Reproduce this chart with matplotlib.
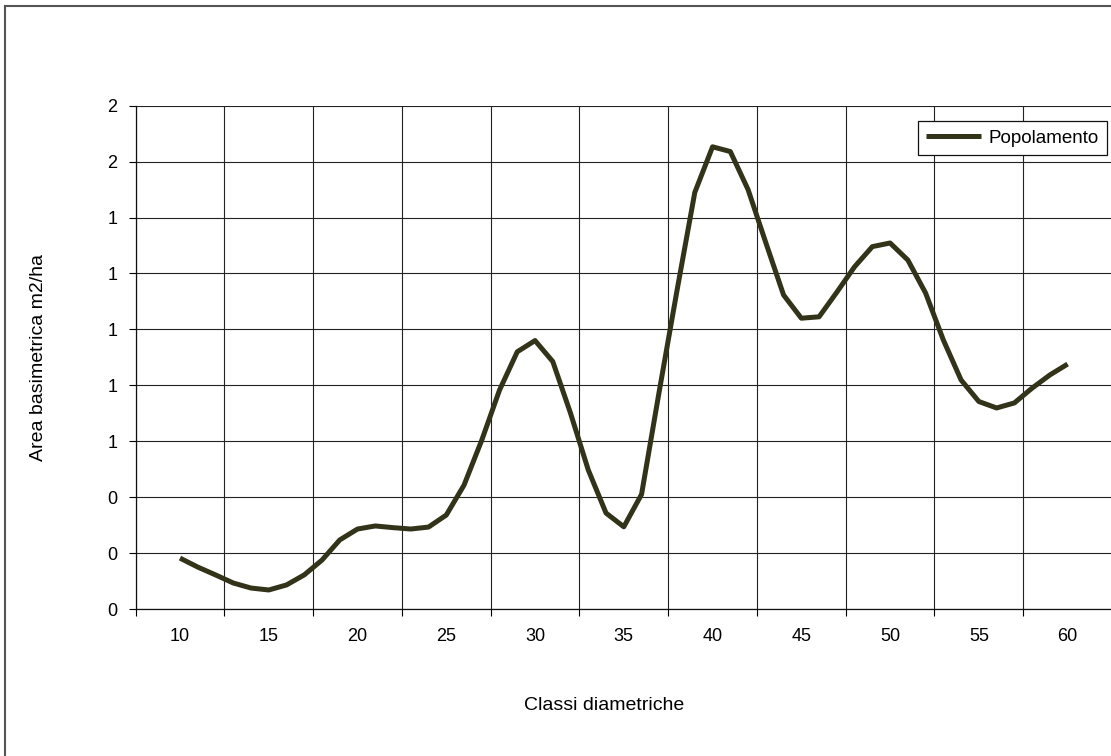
import matplotlib
matplotlib.use("Agg")
import matplotlib.pyplot as plt
import numpy as np
from matplotlib.lines import Line2D
from matplotlib.ticker import FixedLocator, FuncFormatter

plt.rcParams['font.family'] = ['Liberation Sans', 'DejaVu Sans']

# classi diametriche (cm) e area basimetrica (m2/ha)
classes = list(range(10, 61))
area = [0.182, 0.150, 0.122, 0.093, 0.075, 0.068, 0.086, 0.122, 0.175, 0.247,
        0.286, 0.297, 0.291, 0.286, 0.293, 0.336, 0.443, 0.604, 0.783, 0.920,
        0.960, 0.885, 0.700, 0.497, 0.343, 0.294, 0.410, 0.780, 1.140, 1.490,
        1.653, 1.636, 1.500, 1.310, 1.123, 1.040, 1.045, 1.133, 1.224, 1.296,
        1.309, 1.248, 1.130, 0.962, 0.819, 0.742, 0.719, 0.737, 0.790, 0.837,
        0.876]
label_ticks = list(range(10, 61, 5))
grid_ticks = [7.5 + 5 * k for k in range(12)]
y_ticks = np.arange(0, 1.81, 0.2)

W, H = 1111, 756
fig = plt.figure(figsize=(W / 100, H / 100), dpi=100)
ax = fig.add_axes([135.6 / W, 147 / H, (1112 - 135.6) / W, (609 - 105.7) / H])

ax.plot(classes, area, color='#33331a', lw=3.6, solid_joinstyle='round',
        solid_capstyle='butt', label='Popolamento', zorder=3)

ax.set_xlim(7.5, 62.5)
ax.set_ylim(0, 1.8)
ax.xaxis.set_major_locator(FixedLocator(grid_ticks))
ax.xaxis.set_minor_locator(FixedLocator(label_ticks))
ax.xaxis.set_major_formatter(FuncFormatter(lambda v, p: ''))
ax.xaxis.set_minor_formatter(FuncFormatter(lambda v, p: f"{v:.0f}"))
ax.set_yticks(y_ticks)
ax.yaxis.set_major_formatter(FuncFormatter(lambda v, p: f"{v:.0f}"))

ax.tick_params(axis='x', which='major', length=5, width=0.8, direction='out')
ax.tick_params(axis='x', which='minor', length=0, pad=14, labelsize=13)
ax.tick_params(axis='y', length=5, width=0.8, direction='out', pad=8, labelsize=13)

ax.grid(True, which='major', color='#222222', lw=0.8)
ax.set_axisbelow(True)
for s in ['top', 'right']:
    ax.spines[s].set_visible(False)
for s in ['left', 'bottom']:
    ax.spines[s].set_color('#111111')
    ax.spines[s].set_linewidth(0.9)

ax.set_xlabel('Classi diametriche', fontsize=14)
ax.set_ylabel('Area basimetrica m2/ha', fontsize=14)
ax.xaxis.set_label_coords(0.48, -0.175)
ax.yaxis.set_label_coords(-0.091, 0.5)

leg = ax.legend(loc='upper right', bbox_to_anchor=(1107 / W, 1 - 121 / H),
                bbox_transform=fig.transFigure, borderaxespad=0, fancybox=False,
                framealpha=1, edgecolor='#111111', fontsize=13.5, handlelength=2.9,
                handletextpad=0.4, borderpad=0.45)
leg.get_frame().set_linewidth(0.9)

# cornice del grafico
fig.add_artist(Line2D([5 / W, 5 / W], [0, 1 - 6 / H], color='#555555', lw=1.5))
fig.add_artist(Line2D([5 / W, 1], [1 - 6 / H, 1 - 6 / H], color='#555555', lw=1.5))

fig.savefig('out.png', dpi=100)
